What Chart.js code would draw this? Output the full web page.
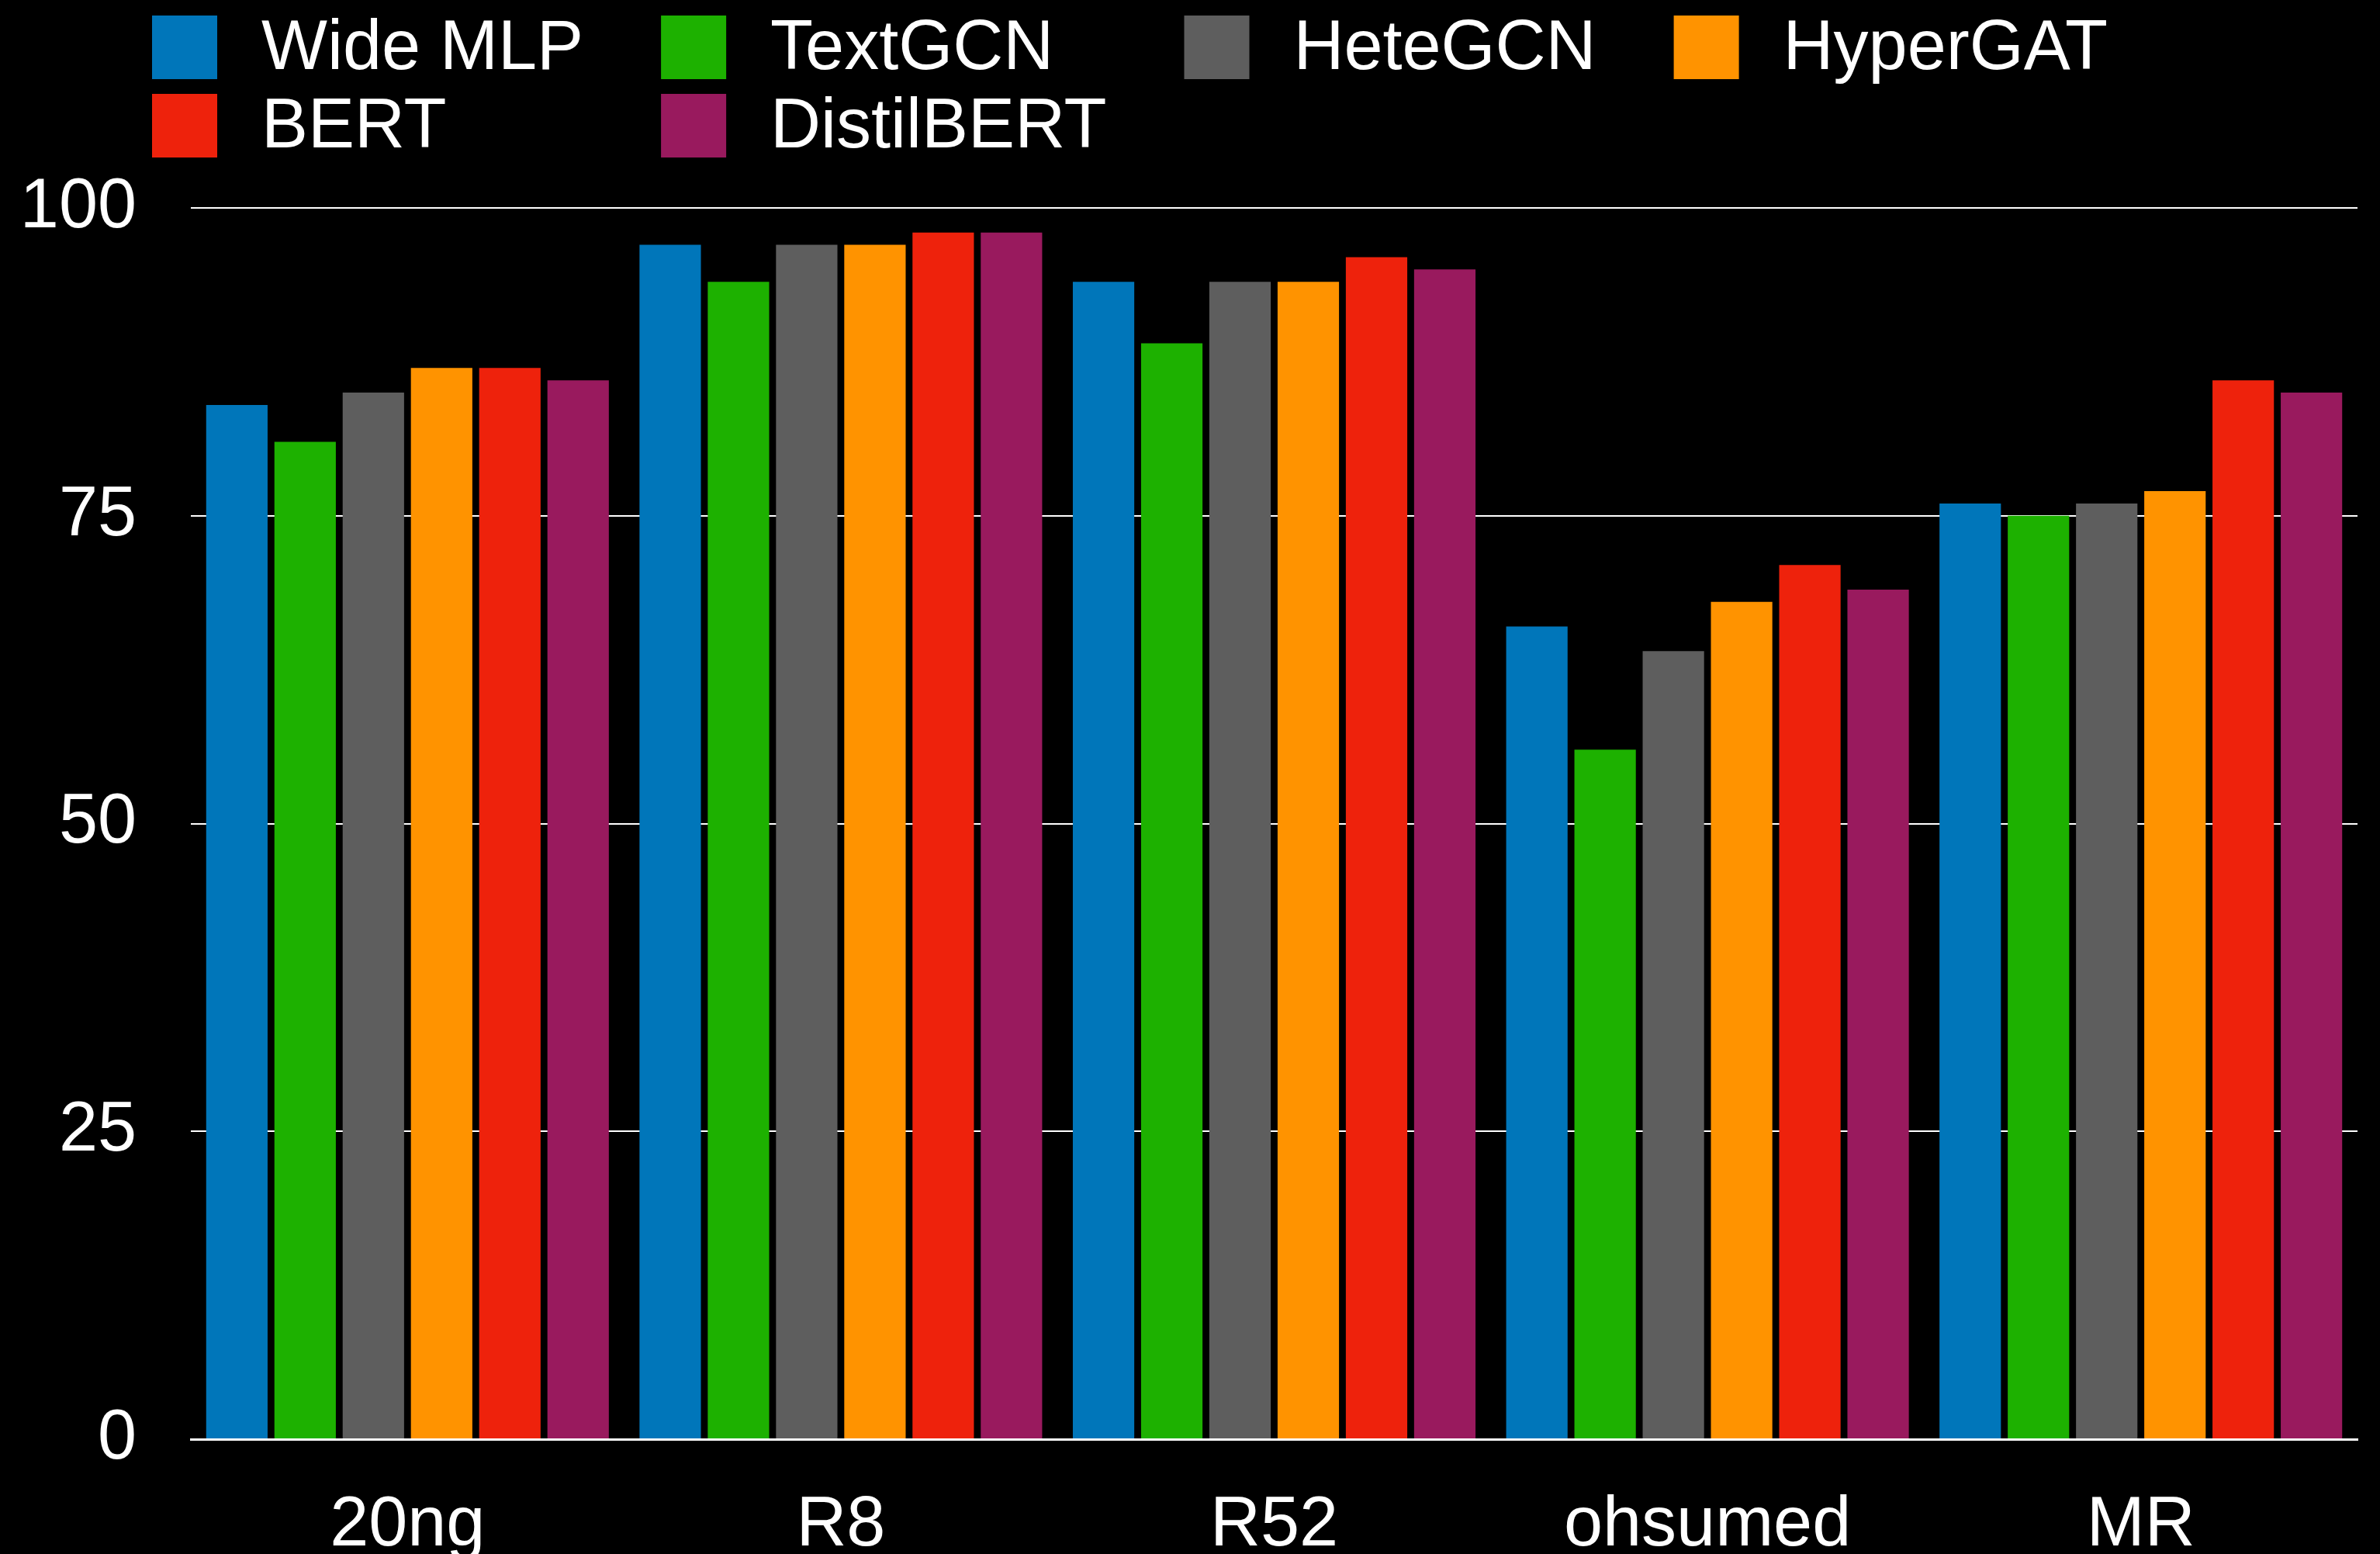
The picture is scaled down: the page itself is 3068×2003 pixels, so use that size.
<!DOCTYPE html>
<html>
<head>
<meta charset="utf-8">
<script src="https://cdn.jsdelivr.net/npm/chart.js@4/dist/chart.umd.min.js"></script>
<style>
  html, body { margin: 0; padding: 0; background: #000; }
  #wrap { width: 3068px; height: 2003px; position: relative; }
</style>
</head>
<body>
<div id="wrap"><canvas id="accChart"></canvas></div>
<script>
var categories = ['20ng', 'R8', 'R52', 'ohsumed', 'MR'];
var seriesNames = ['Wide MLP', 'TextGCN', 'HeteGCN', 'HyperGAT', 'BERT', 'DistilBERT'];
var wideMLP    = [84, 97, 94, 66, 76];
var textGCN    = [81, 94, 89, 56, 75];
var heteGCN    = [85, 97, 94, 64, 76];
var hyperGAT   = [87, 97, 94, 68, 77];
var bert       = [87, 98, 96, 71, 86];
var distilBERT = [86, 98, 95, 69, 85];
var yTicks = [0, 25, 50, 75, 100];

var colors = ['#0076BA', '#1DB100', '#5E5E5E', '#FF9300', '#EE220C', '#991A5E'];
var seriesValues = [wideMLP, textGCN, heteGCN, hyperGAT, bert, distilBERT];
var fontFamily = '"Liberation Sans", Arial, Helvetica, sans-serif';
var fontSize = 90;

// legend laid out as a grid of 4 columns, like the keynote original
var gridLegend = {
    id: 'gridLegend',
    afterDraw: function (chart) {
        var ctx = chart.ctx;
        var cols = 4, boxW = 84, boxH = 82, textGap = 57, colGap = 100;
        var rowTops = [20, 121];
        var startX = 196;
        ctx.save();
        ctx.font = fontSize + 'px ' + fontFamily;
        ctx.textBaseline = 'middle';
        ctx.textAlign = 'left';
        var ds = chart.data.datasets;
        var x = startX;
        for (var c = 0; c < cols; c++) {
            var maxW = 0;
            for (var r = 0; r < rowTops.length; r++) {
                var i = r * cols + c;
                if (i >= ds.length) continue;
                var y = rowTops[r];
                ctx.fillStyle = ds[i].backgroundColor;
                ctx.fillRect(x, y, boxW, boxH);
                ctx.fillStyle = '#fff';
                ctx.fillText(ds[i].label, x + boxW + textGap, y + boxH / 2 + 3);
                maxW = Math.max(maxW, ctx.measureText(ds[i].label).width);
            }
            x += boxW + textGap + maxW + colGap;
        }
        ctx.restore();
    }
};

var ctx = document.getElementById('accChart').getContext('2d');
var accChart = new Chart(ctx, {
    type: 'bar',
    data: {
        labels: categories,
        datasets: seriesNames.map(function (name, i) {
            return {
                label: name,
                data: seriesValues[i],
                backgroundColor: colors[i],
                borderWidth: 0,
                categoryPercentage: 0.945,
                barPercentage: 0.9
            };
        })
    },
    options: {
        responsive: true,
        maintainAspectRatio: false,
        animation: false,
        layout: { padding: { top: 268, right: 29, left: 0, bottom: 0 } },
        plugins: {
            legend: { display: false },
            tooltip: { enabled: false }
        },
        scales: {
            x: {
                grid: { display: false, drawTicks: false },
                border: { display: true, color: '#fff', width: 3 },
                ticks: {
                    color: '#fff',
                    padding: 58,
                    maxRotation: 0,
                    font: { family: fontFamily, size: fontSize }
                },
                afterFit: function (scale) { scale.height = 148; }
            },
            y: {
                min: 0,
                max: 100,
                afterBuildTicks: function (scale) {
                    scale.ticks = yTicks.map(function (v) { return { value: v }; });
                },
                grid: { color: '#fff', lineWidth: 2, drawTicks: false },
                border: { display: false },
                ticks: {
                    color: '#fff',
                    padding: 70,
                    font: { family: fontFamily, size: fontSize }
                },
                afterFit: function (scale) { scale.width = 246; }
            }
        }
    },
    plugins: [gridLegend]
});
</script>
</body>
</html>
